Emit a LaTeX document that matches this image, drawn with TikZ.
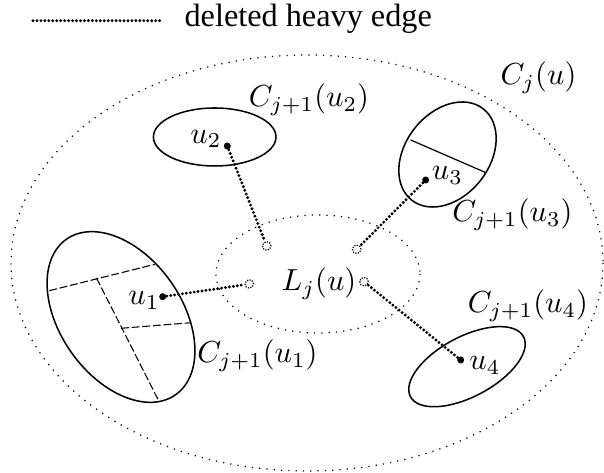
\documentclass[tikz,border=0pt]{standalone}
\usepackage{amsmath}
\usepackage{fontspec}
\newfontfamily\legendfont{Liberation Serif}
\usetikzlibrary{positioning}

\begin{document}
\begin{tikzpicture}[
  x=0.3285pt, y=-0.3285pt,
  font=\normalsize,
  region/.style={dotted, line width=0.4pt},
  cluster/.style={line width=0.5pt},
  cut/.style={line width=0.35pt, dash pattern=on 2.6pt off 0.9pt},
  heavy/.style={line width=1.05pt, line cap=round, dash pattern=on 0pt off 1.3pt},
  vtx/.style={circle, fill, inner sep=0pt, minimum size=2.3pt},
  port/.style={circle, draw, line width=0.4pt, dash pattern=on 0.4pt off 0.45pt, inner sep=0pt, minimum size=2.8pt},
  lab/.style={anchor=base, inner sep=0pt},
]
\useasboundingbox (0,0) rectangle (604,473);

% ---------------- legend ----------------
\coordinate (legA) at (33,20.7);
\coordinate (legB) at (160,20.7);
\draw[heavy] (legA) -- (legB);
\node[anchor=base west, inner sep=0pt, font=\fontsize{10.6}{12}\legendfont] (legtxt) at (184,26.5) {deleted heavy edge};

% ---------------- outer cluster and core ----------------
\draw[region] (307,263) ellipse [x radius=296, y radius=208];
\node[lab] (cj) at (538.5,85) {$C_j(u)$};

\draw[region] (318,274) ellipse [x radius=102, y radius=59];
\node[lab] (lj) at (319,290.7) {$L_j(u)$};

% end points of the deleted edges on L_j(u)
\node[port] (p1) at (249.3,284) {};
\node[port] (p2) at (266.7,246) {};
\node[port] (p3) at (356.7,249.3) {};
\node[port] (p4) at (364,281.7) {};

% ---------------- child clusters ----------------
\def\ca{121,317}      % C_{j+1}(u_1)
\def\cb{214.7,137}    % C_{j+1}(u_2)
\def\cc{447.5,154.5}  % C_{j+1}(u_3)
\def\cd{467,366.7}    % C_{j+1}(u_4)

\draw[cluster, rotate around={-55:(\ca)}] (\ca) ellipse [x radius=95, y radius=61];
\draw[cut] (49.3,290.7) -- (155,264.3);
\draw[cut] (96.5,278) -- (158.3,400);
\draw[cut] (121,328.3) -- (191.2,322.7);

\draw[cluster] (\cb) ellipse [x radius=61.3, y radius=29];

\draw[cluster, rotate around={52:(\cc)}] (\cc) ellipse [x radius=58, y radius=42];
\draw[line width=0.4pt] (410.7,140) -- (486,172.7);

\draw[cluster, rotate around={28:(\cd)}] (\cd) ellipse [x radius=64, y radius=30];

% cluster names
\node[lab] (c1) at (257.5,363) {$C_{j+1}(u_1)$};
\node[lab] (c2) at (309,107) {$C_{j+1}(u_2)$};
\node[lab] (c3) at (512.5,221.7) {$C_{j+1}(u_3)$};
\node[lab] (c4) at (528,313) {$C_{j+1}(u_4)$};

% ---------------- centres and deleted heavy edges ----------------
\node[vtx] (v1) at (162.7,296.7) {};
\node[vtx] (v2) at (227.3,146) {};
\node[vtx] (v3) at (425.7,180) {};
\node[vtx] (v4) at (460.7,360) {};

\node[lab] (u1) at (144,305) {$u_1$};
\node[lab] (u2) at (206,143.3) {$u_2$};
\node[lab] (u3) at (447.5,180) {$u_3$};
\node[lab] (u4) at (485,370) {$u_4$};

\draw[heavy] (v1) -- (p1);
\draw[heavy] (v2) -- (p2);
\draw[heavy] (v3) -- (p3);
\draw[heavy] (v4) -- (p4);

\end{tikzpicture}
\end{document}
